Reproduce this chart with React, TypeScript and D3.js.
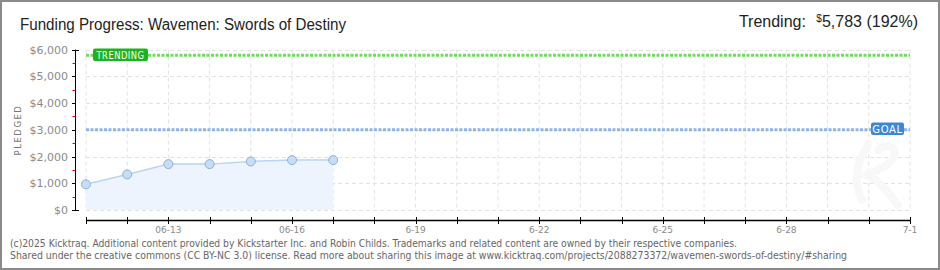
import React from "react";
import { scaleLinear, scaleTime, timeDay, line, area, range } from "d3";

const W = 940;
const H = 270;

const title = "Funding Progress: Wavemen: Swords of Destiny";
const pointDates = ["2025-06-11", "2025-06-12", "2025-06-13", "2025-06-14", "2025-06-15", "2025-06-16", "2025-06-17"];
const pledged = [960, 1330, 1715, 1715, 1815, 1865, 1865];
const goal = 3000;
const trending = 5783;
const trendingPct = 192;
const yTicks = [0, 1000, 2000, 3000, 4000, 5000, 6000];
const xLabelDates = ["2025-06-13", "2025-06-16", "2025-06-19", "2025-06-22", "2025-06-25", "2025-06-28", "2025-07-01"];
const xLabels = ["06-13", "06-16", "6-19", "6-22", "6-25", "6-28", "7-1"];
const footer = [
  "(c)2025 Kicktraq. Additional content provided by Kickstarter Inc. and Robin Childs. Trademarks and related content are owned by their respective companies.",
  "Shared under the creative commons (CC BY-NC 3.0) license. Read more about sharing this image at www.kicktraq.com/projects/2088273372/wavemen-swords-of-destiny/#sharing",
];

const parse = (s: string) => new Date(s + "T00:00:00");
const fmt = (v: number) => "$" + v.toLocaleString("en-US");

const App = () => {
  const x = scaleTime().domain([parse("2025-06-11"), parse("2025-07-01")]).range([86, 910]);
  const y = scaleLinear().domain([0, 6000]).range([210, 49.5]);

  const days = timeDay.range(parse("2025-06-11"), timeDay.offset(parse("2025-07-01"), 1));
  const pts = pointDates.map((d, i) => ({ d: parse(d), v: pledged[i] }));

  const lineGen = line<{ d: Date; v: number }>().x((p) => x(p.d)).y((p) => y(p.v));
  const areaGen = area<{ d: Date; v: number }>().x((p) => x(p.d)).y0(y(0)).y1((p) => y(p.v));

  const sans = "'DejaVu Sans', Verdana, sans-serif";
  const head = "'Liberation Sans', Arial, sans-serif";
  const axisX = 75.5;

  return (
    <svg width={W} height={H} style={{ position: "absolute", left: 0, top: 0 }} fontFamily={sans}>
      <rect x={0} y={0} width={W} height={H} fill="#fff" />
      <rect x={1} y={1} width={W - 2} height={H - 2} fill="none" stroke="#8a8a8a" strokeWidth={2} />

      {/* title */}
      <text x={20} y={30} fontSize={16} fill="#222" fontFamily={head} textLength={326} lengthAdjust="spacingAndGlyphs">
        {title}
      </text>
      <text x={918} y={27} textAnchor="end" fontSize={16} fill="#222" fontFamily={head}>
        <tspan>Trending: </tspan>
        <tspan dx={6} fontSize={10} dy={-5}>$</tspan>
        <tspan dy={5}>{trending.toLocaleString("en-US")} ({trendingPct}%)</tspan>
      </text>

      {/* grid */}
      {days.map((d, i) => (
        <line key={"vg" + i} x1={x(d)} x2={x(d)} y1={y(6000)} y2={y(0)} stroke="#e2e2e2" strokeDasharray="4 3" />
      ))}
      {yTicks.map((t) => (
        <line key={"hg" + t} x1={86} x2={910} y1={Math.round(y(t)) + 0.5} y2={Math.round(y(t)) + 0.5} stroke="#e2e2e2" strokeDasharray="4 3" />
      ))}

      {/* faint K watermark */}
      <path d="M862,200 C852,180 858,160 868,145 M878,150 C890,140 900,150 892,160 C884,170 870,172 866,175 C880,180 890,195 898,205" fill="none" stroke="#f8f8f8" strokeWidth={8} strokeLinecap="round" />

      {/* area and points */}
      <path d={areaGen(pts) || ""} fill="#edf4fd" />
      <path d={lineGen(pts) || ""} fill="none" stroke="#b9d5f2" strokeWidth={1.5} />
      {pts.map((p, i) => (
        <circle key={"pt" + i} cx={x(p.d)} cy={y(p.v)} r={4.5} fill="#c6ddf6" stroke="#8eb0d6" strokeWidth={1} />
      ))}

      {/* goal line */}
      <line x1={86} x2={871} y1={y(goal)} y2={y(goal)} stroke="#8fb5e3" strokeWidth={3} strokeDasharray="3 1.5" />
      <line x1={904} x2={910} y1={y(goal)} y2={y(goal)} stroke="#8fb5e3" strokeWidth={3} strokeDasharray="3 1.5" />
      <rect x={871} y={122.5} width={33} height={12.5} rx={2} fill="#3b88d8" />
      <text x={887.5} y={132.5} textAnchor="middle" fontSize={10} fill="#fff" letterSpacing={0.6}>GOAL</text>

      {/* trending line */}
      <line x1={86} x2={93} y1={y(trending)} y2={y(trending)} stroke="#6fdc5f" strokeWidth={3} strokeDasharray="3 1.5" />
      <line x1={148} x2={910} y1={y(trending)} y2={y(trending)} stroke="#6fdc5f" strokeWidth={3} strokeDasharray="3 1.5" />
      <rect x={93} y={48.5} width={55} height={12.5} rx={2} fill="#1db31d" />
      <text x={120.5} y={58.5} textAnchor="middle" fontSize={10} fill="#fff" letterSpacing={0.6} textLength={48} lengthAdjust="spacingAndGlyphs">TRENDING</text>

      {/* y axis */}
      <line x1={axisX} x2={axisX} y1={y(6000)} y2={y(0)} stroke="#000" />
      {range(500, 6000, 1000).map((t) => (
        <line key={"mt" + t} x1={72.5} x2={axisX} y1={Math.round(y(t)) + 0.5} y2={Math.round(y(t)) + 0.5} stroke="#e00" />
      ))}
      {yTicks.map((t) => (
        <g key={"yt" + t}>
          <line x1={72} x2={t === 0 || t === 6000 ? 79 : axisX} y1={Math.round(y(t)) + 0.5} y2={Math.round(y(t)) + 0.5} stroke="#000" />
          <text x={68} y={y(t) + 4} textAnchor="end" fontSize={11} fill="#8a8a8a">{fmt(t)}</text>
        </g>
      ))}
      <text transform={`translate(21,${130}) rotate(-90)`} textAnchor="middle" fontSize={8.5} fill="#777" letterSpacing={1.5}>PLEDGED</text>

      {/* x axis */}
      <line x1={86} x2={910} y1={220.5} y2={220.5} stroke="#000" strokeWidth={1.5} />
      {days.map((d, i) => (
        <line key={"xt" + i} x1={Math.round(x(d)) + 0.5} x2={Math.round(x(d)) + 0.5} y1={217} y2={224} stroke="#000" />
      ))}
      {xLabelDates.map((d, i) => (
        <text key={"xl" + i} x={x(parse(d))} y={233} textAnchor="middle" fontSize={9} fill="#8a8a8a">{xLabels[i]}</text>
      ))}

      {/* footer */}
      <text x={10} y={247} fontSize={10} fill="#666" textLength={727} lengthAdjust="spacingAndGlyphs">{footer[0]}</text>
      <text x={10} y={259} fontSize={10} fill="#666" textLength={837} lengthAdjust="spacingAndGlyphs">{footer[1]}</text>
    </svg>
  );
};

export default App;
